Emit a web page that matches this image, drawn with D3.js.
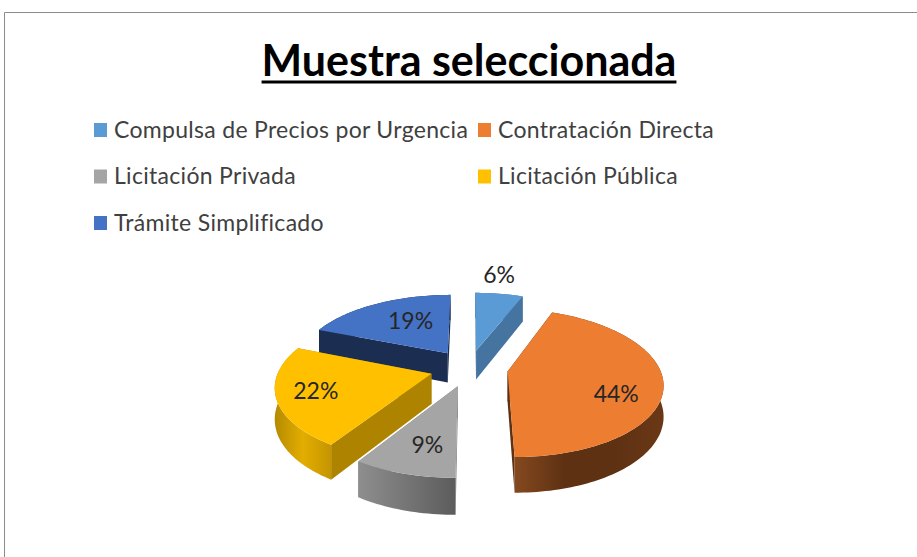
<!DOCTYPE html>
<html>
<head>
<meta charset="utf-8">
<script src="https://cdn.jsdelivr.net/npm/d3@7"></script>
<style>
html, body { margin: 0; padding: 0; background: #fff; }
svg { display: block; }
text { font-family: Lato, "Open Sans", sans-serif; }
</style>
</head>
<body>
<script>
const categories = ["Compulsa de Precios por Urgencia", "Contratación Directa", "Licitación Privada", "Licitación Pública", "Trámite Simplificado"]
const shares = [6, 44, 9, 22, 19]
const titleText = "Muestra seleccionada"

const topColors = ["#5b9bd5", "#ed7d31", "#a5a5a5", "#ffc000", "#4472c4"]
const cutColors = ["#44749f", "#5e3113", "#808080", "#ae8300", "#1b2d50"]
const wallStops = [
    ["#44749f", "#44749f"],
    ["#85491f", "#5e3113", "#5e3113", "#6a3816"],
    ["#8e8e8e", "#5c5c5c"],
    ["#b58a00", "#e3ad00", "#c49500"],
    ["#1b2d50", "#1b2d50"]
]

const width = 917
const height = 557
const svg = d3.select("body").append("svg")
    .attr("width", width)
    .attr("height", height)

// frame of the pasted picture
svg.append("path")
    .attr("d", `M4.5,${height} V12.5 H${width}`)
    .attr("fill", "none")
    .attr("stroke", "#8c8c8c")
    .attr("stroke-width", 1)

const title = svg.append("text")
    .attr("x", 469)
    .attr("y", 76)
    .attr("text-anchor", "middle")
    .attr("font-size", 43)
    .attr("font-weight", 700)
    .attr("fill", "#000")
    .text(titleText)
let titleBox = title.node().getBBox()
svg.append("rect")
    .attr("x", titleBox.x)
    .attr("y", 80.5)
    .attr("width", titleBox.width)
    .attr("height", 3)
    .attr("fill", "#000")

// legend
const color = d3.scaleOrdinal().domain(categories).range(topColors)
const legendX = d3.scaleOrdinal().domain([0, 1]).range([94, 478])
const legendY = d3.scalePoint().domain([0, 1, 2]).range([130, 223])
const legend = svg.append("g").selectAll("g")
    .data(categories)
    .join("g")
    .attr("transform", (d, i) => `translate(${legendX(i % 2)},${legendY(Math.floor(i / 2))})`)
legend.append("rect")
    .attr("x", 0)
    .attr("y", -7)
    .attr("width", 13)
    .attr("height", 14)
    .attr("fill", d => color(d))
legend.append("text")
    .attr("x", 20)
    .attr("y", 7.5)
    .attr("font-size", 23)
    .attr("letter-spacing", 0.3)
    .attr("fill", "#404040")
    .text(d => d)

// pie in perspective
const cx = 469
const cy = 368
const tilt = 0.47
const focal = 1000
const radius = 152
const explode = 39
const depth = 30
const paintOrder = [0, 4, 2, 1, 3]

function project(x, y, z) {
    let s = focal / (focal - y)
    return [cx + x * s, cy + (y * tilt + z) * s]
}
function polar(d, a, r) {
    let mid = (d.startAngle + d.endAngle) / 2
    return [
        explode * Math.sin(mid) + r * Math.sin(a),
        -explode * Math.cos(mid) - r * Math.cos(a)
    ]
}
function arcPoints(d, z) {
    let n = Math.ceil((d.endAngle - d.startAngle) * 40)
    return d3.range(n + 1).map(i => {
        let a = d.startAngle + (d.endAngle - d.startAngle) * i / n
        let p = polar(d, a, radius)
        return project(p[0], p[1], z)
    })
}
function cutFace(d, a) {
    let tip = polar(d, a, 0)
    let rim = polar(d, a, radius)
    return [project(tip[0], tip[1], 0), project(rim[0], rim[1], 0), project(rim[0], rim[1], depth), project(tip[0], tip[1], depth)]
}

const line = d3.line().curve(d3.curveLinear)
const slices = d3.pie().sort(null).value(d => d)(shares)
const defs = svg.append("defs")
wallStops.forEach((stops, i) => {
    let grad = defs.append("linearGradient").attr("id", "wall" + i)
    stops.forEach((c, j) => {
        grad.append("stop")
            .attr("offset", j / (stops.length - 1))
            .attr("stop-color", c)
    })
})

const pie = svg.append("g")
for (let i of paintOrder) {
    let d = slices[i]
    let g = pie.append("g")
    g.append("path")
        .attr("d", line(cutFace(d, d.startAngle)) + "Z")
        .attr("fill", cutColors[i])
    g.append("path")
        .attr("d", line(cutFace(d, d.endAngle)) + "Z")
        .attr("fill", cutColors[i])
    g.append("path")
        .attr("d", line(arcPoints(d, 0).concat(arcPoints(d, depth).reverse())) + "Z")
        .attr("fill", `url(#wall${i})`)
    let tip = polar(d, 0, 0)
    g.append("path")
        .attr("d", line([project(tip[0], tip[1], 0)].concat(arcPoints(d, 0))) + "Z")
        .attr("fill", topColors[i])
}

// labels: projected centroid, then nudged the way the chart placed them
const labelRadius = [1.2, 0.62, 0.62, 0.62, 0.62]
const labelNudge = [[-4, -10], [13, 13], [1, 7], [-21, 2], [9, -1]]
svg.append("g").selectAll("text")
    .data(slices)
    .join("text")
    .attr("transform", (d, i) => {
        let mid = (d.startAngle + d.endAngle) / 2
        let p = polar(d, mid, radius * labelRadius[i])
        let q = project(p[0], p[1], 0)
        return `translate(${q[0] + labelNudge[i][0]},${q[1] + labelNudge[i][1]})`
    })
    .attr("text-anchor", "middle")
    .attr("dominant-baseline", "central")
    .attr("font-size", 23)
    .attr("fill", "#262626")
    .text(d => d.data + "%")
</script>
</body>
</html>
